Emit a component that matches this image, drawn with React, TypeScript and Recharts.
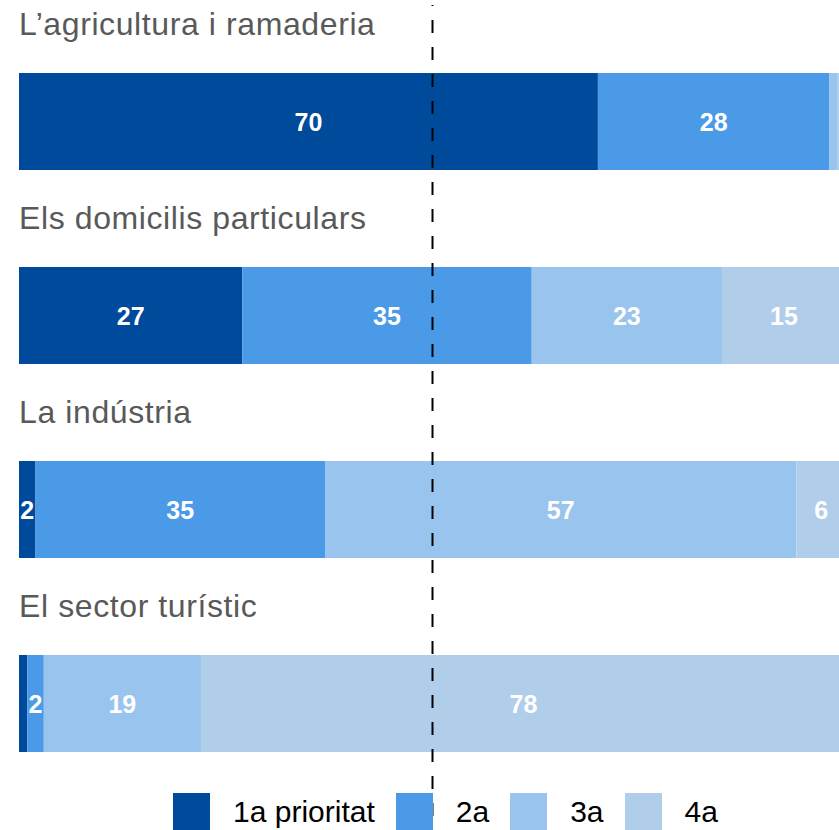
import React from "react";
import { BarChart, Bar, XAxis, YAxis, ReferenceLine, Legend, LabelList } from "recharts";

const categories = [
  "L’agricultura i ramaderia",
  "Els domicilis particulars",
  "La indústria",
  "El sector turístic",
];
const prio1 = [70, 27, 2, 1];
const prio2 = [28, 35, 35, 2];
const prio3 = [1, 23, 57, 19];
const prio4 = [1, 15, 6, 78];
const seriesKeys = ["p1", "p2", "p3", "p4"];
const seriesNames = ["1a prioritat", "2a", "3a", "4a"];
const colors = ["#004A9C", "#4A9AE8", "#99C4ED", "#B0CDEA"];
const referenceValue = 50;

const data = categories.map((name, i) => ({
  name,
  p1: prio1[i],
  p2: prio2[i],
  p3: prio3[i],
  p4: prio4[i],
}));

const FONT = "'Liberation Sans', Arial, Helvetica, sans-serif";

const renderCategoryLabel = (props: any) => {
  const { x, y, value } = props;
  return (
    <text
      x={Number(x)}
      y={Number(y) - 38}
      fill="#595959"
      fontSize={32}
      letterSpacing={0.6}
      fontFamily={FONT}
    >
      {value}
    </text>
  );
};

const renderValueLabel = (props: any) => {
  const { x, y, width, height, value } = props;
  if (value == null || value < 2) return null;
  return (
    <text
      x={Number(x) + Number(width) / 2}
      y={Number(y) + Number(height) / 2}
      fill="#ffffff"
      fontSize={25}
      fontWeight="bold"
      fontFamily={FONT}
      textAnchor="middle"
      dominantBaseline="central"
    >
      {value}
    </text>
  );
};

const DashedLine = (props: any) => {
  const x = props.x1 ?? props.x ?? 0;
  return (
    <line
      x1={x}
      x2={x}
      y1={5}
      y2={830}
      stroke="#000"
      strokeWidth={2}
      strokeDasharray="13 14"
      strokeDashoffset={12}
    />
  );
};

const renderLegend = (props: any) => {
  const payload = props.payload || [];
  return (
    <div
      style={{
        display: "flex",
        alignItems: "center",
        paddingLeft: 173,
        fontFamily: FONT,
        fontSize: 30,
        color: "#000",
        height: 37,
      }}
    >
      {payload.map((entry: any, i: number) => (
        <div
          key={i}
          style={{ display: "flex", alignItems: "center", marginRight: 21 }}
        >
          <div
            style={{
              width: 37,
              height: 37,
              background: entry.color,
              marginRight: 23,
            }}
          />
          <span style={{ lineHeight: "37px" }}>{entry.value}</span>
        </div>
      ))}
    </div>
  );
};

export default function App() {
  return (
    <div
      style={{
        position: "absolute",
        left: 0,
        top: 0,
        width: 839,
        height: 830,
        overflow: "hidden",
        background: "#fff",
      }}
    >
      <BarChart
        width={846}
        height={830}
        data={data}
        layout="vertical"
        margin={{ top: 24, right: 0, bottom: 30, left: 19 }}
      >
        <XAxis type="number" domain={[0, 100]} hide />
        <YAxis type="category" dataKey="name" hide />
        {seriesKeys.map((k, i) => (
          <Bar
            key={k}
            dataKey={k}
            name={seriesNames[i]}
            stackId="a"
            fill={colors[i]}
            barSize={97}
            isAnimationActive={false}
          >
            <LabelList dataKey={k} content={renderValueLabel} />
            {i === 0 ? (
              <LabelList dataKey="name" content={renderCategoryLabel} />
            ) : null}
          </Bar>
        ))}
        <ReferenceLine
          x={referenceValue}
          ifOverflow="visible"
          shape={<DashedLine />}
        />
        <Legend
          layout="horizontal"
          verticalAlign="middle"
          align="center"
          content={renderLegend}
          wrapperStyle={{ top: 793, left: 0, width: 846, height: 37 }}
        />
      </BarChart>
    </div>
  );
}
